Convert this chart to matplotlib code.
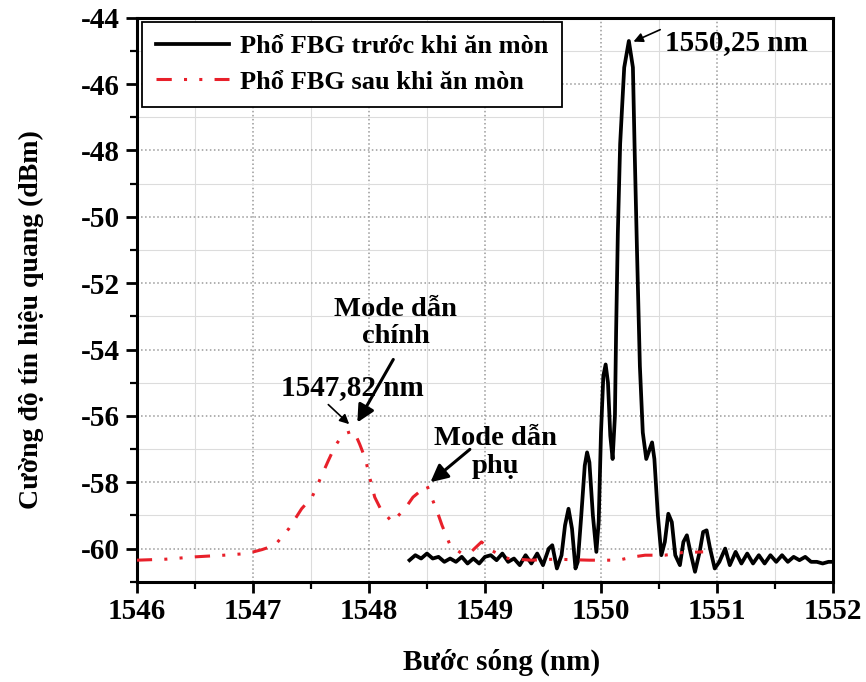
import numpy as np
import matplotlib
matplotlib.use('Agg')
import matplotlib.pyplot as plt

plt.rc('font', family='Liberation Serif', weight='bold')
plt.rc('axes', labelweight='bold', unicode_minus=False)

# spectrum before etching (black)
wl_before = [1548.35, 1548.40, 1548.45, 1548.50, 1548.55, 1548.60, 1548.65, 1548.70,
             1548.75, 1548.80, 1548.85, 1548.90, 1548.95, 1549.00, 1549.05, 1549.10,
             1549.15, 1549.20, 1549.25, 1549.30, 1549.35, 1549.40, 1549.45, 1549.50,
             1549.55, 1549.58, 1549.62, 1549.66, 1549.69, 1549.72, 1549.75, 1549.78,
             1549.80, 1549.83, 1549.86, 1549.88, 1549.90, 1549.93, 1549.96, 1549.98,
             1550.00, 1550.02, 1550.04, 1550.06, 1550.08, 1550.10, 1550.12, 1550.13,
             1550.145, 1550.165, 1550.20, 1550.24, 1550.275, 1550.29, 1550.31, 1550.335,
             1550.36, 1550.39, 1550.44, 1550.46, 1550.49, 1550.52, 1550.55, 1550.58,
             1550.61, 1550.64, 1550.68, 1550.71, 1550.74, 1550.77, 1550.81, 1550.85,
             1550.88, 1550.91, 1550.94, 1550.98, 1551.02, 1551.07, 1551.11, 1551.16,
             1551.21, 1551.26, 1551.31, 1551.36, 1551.41, 1551.46, 1551.51, 1551.56,
             1551.61, 1551.66, 1551.71, 1551.76, 1551.81, 1551.86, 1551.91, 1551.96,
             1552.00]
p_before = [-60.35, -60.20, -60.30, -60.15, -60.30, -60.25, -60.40, -60.30,
            -60.40, -60.25, -60.45, -60.30, -60.45, -60.25, -60.20, -60.35,
            -60.15, -60.40, -60.30, -60.50, -60.20, -60.45, -60.15, -60.50,
            -60.00, -59.90, -60.60, -60.20, -59.30, -58.80, -59.40, -60.60,
            -60.40, -59.00, -57.50, -57.10, -57.40, -59.00, -60.10, -59.20,
            -56.50, -54.80, -54.45, -55.00, -56.60, -57.30, -56.00, -53.50,
            -50.50, -47.80, -45.50, -44.70, -45.50, -48.00, -51.00, -54.50,
            -56.50, -57.30, -56.80, -57.30, -59.00, -60.20, -59.80, -58.95,
            -59.20, -60.20, -60.50, -59.80, -59.60, -60.10, -60.70, -60.10,
            -59.50, -59.45, -60.00, -60.60, -60.40, -60.00, -60.50, -60.10,
            -60.45, -60.15, -60.45, -60.20, -60.45, -60.20, -60.40, -60.20,
            -60.40, -60.25, -60.35, -60.25, -60.40, -60.40, -60.45, -60.40,
            -60.40]

# spectrum after etching (red)
wl_after = [1546.00, 1546.25, 1546.50, 1546.75, 1546.95, 1547.08, 1547.19, 1547.31,
            1547.42, 1547.51, 1547.58, 1547.65, 1547.71, 1547.78, 1547.87, 1547.92,
            1547.97, 1548.01, 1548.05, 1548.10, 1548.20, 1548.31, 1548.38, 1548.50,
            1548.59, 1548.63, 1548.70, 1548.80, 1548.88, 1548.97, 1549.05, 1549.20,
            1549.40, 1549.60, 1549.90, 1550.15, 1550.28, 1550.38, 1550.55, 1550.70,
            1550.88]
p_after = [-60.35, -60.32, -60.25, -60.20, -60.15, -60.03, -59.90, -59.40,
           -58.80, -58.45, -57.90, -57.35, -56.90, -56.55, -56.45, -56.85,
           -57.30, -57.90, -58.45, -58.80, -59.20, -58.80, -58.45, -58.10,
           -58.90, -59.30, -59.90, -60.15, -60.10, -59.80, -60.05, -60.30,
           -60.35, -60.32, -60.35, -60.35, -60.25, -60.20, -60.20, -60.12,
           -60.10]

label_before = 'Phổ FBG trước khi ăn mòn'
label_after = 'Phổ FBG sau khi ăn mòn'

fig = plt.figure(figsize=(8.66, 6.82), dpi=100)
ax = fig.add_axes([0.158, 0.147, 0.804, 0.827])

ax.plot(wl_before, p_before, color='black', lw=2.7, solid_joinstyle='round',
        label=label_before, zorder=3)
ax.plot(wl_after, p_after, color='#e8202a', lw=2.2,
        linestyle=(0, (5, 4, 1, 4, 1, 4)), label=label_after, zorder=4)

ax.set_xlim(1546, 1552)
ax.set_ylim(-61, -44)
ax.set_xticks(np.arange(1546, 1553, 1))
ax.set_xticks(np.arange(1546, 1552.01, 0.5), minor=True)
ax.set_yticks(np.arange(-60, -43, 2))
ax.set_yticks(np.arange(-61, -43.9, 1), minor=True)

ax.grid(which='major', color='#9a9a9a', linestyle=':', lw=1.1)
ax.grid(which='minor', color='#dcdcdc', linestyle='-', lw=0.8)
ax.set_axisbelow(True)

for s in ax.spines.values():
    s.set_linewidth(2.2)
ax.tick_params(which='major', direction='out', length=8, width=2, labelsize=21, pad=4)
ax.tick_params(which='minor', direction='out', length=5, width=1.6)

ax.set_xlabel('Bước sóng (nm)', fontsize=21)
ax.set_ylabel('Cường độ tín hiệu quang (dBm)', fontsize=20)
ax.xaxis.set_label_coords(0.524, -0.142)
ax.xaxis.label.set_va('center')
ax.yaxis.set_label_coords(-0.152, 0.465)
ax.yaxis.label.set_va('center')

leg = ax.legend(loc='upper left', bbox_to_anchor=(0.008, 0.993), fontsize=19,
                frameon=True, fancybox=False, framealpha=1, edgecolor='black',
                handlelength=2.8, handletextpad=0.4, borderpad=0.5,
                labelspacing=0.45, borderaxespad=0)
leg.get_frame().set_linewidth(1.3)

thick = dict(arrowstyle='-|>', color='black', lw=2.2, mutation_scale=26,
             shrinkA=0, shrinkB=0)
thin = dict(arrowstyle='-|>', color='black', lw=1.2, mutation_scale=14,
            shrinkA=0, shrinkB=0)

ax.text(1550.55, -44.75, '1550,25 nm', fontsize=21, ha='left', va='center')
ax.annotate('', xy=(1550.28, -44.72), xytext=(1550.51, -44.36), arrowprops=thin)

ax.text(1548.23, -53.2, 'Mode dẫn\nchính', fontsize=20.5, ha='center', va='center',
        linespacing=1.15)
ax.annotate('', xy=(1547.90, -56.2), xytext=(1548.21, -54.3), arrowprops=thick)

ax.text(1547.86, -55.15, '1547,82 nm', fontsize=21, ha='center', va='center')
ax.annotate('', xy=(1547.83, -56.25), xytext=(1547.65, -55.66), arrowprops=thin)

ax.text(1549.09, -57.1, 'Mode dẫn\nphụ', fontsize=20.5, ha='center', va='center',
        linespacing=1.15)
ax.annotate('', xy=(1548.53, -58.0), xytext=(1548.87, -57.01), arrowprops=thick)

fig.savefig('out.png', dpi=100)
